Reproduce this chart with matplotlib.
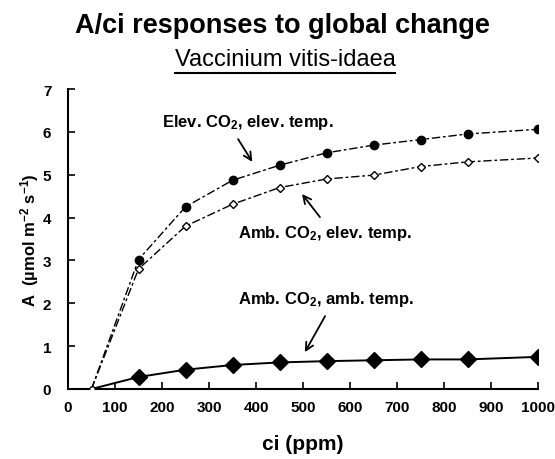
import matplotlib
matplotlib.use("Agg")
import matplotlib.pyplot as plt
from matplotlib.lines import Line2D

plt.rcParams['font.family'] = ['Liberation Sans', 'DejaVu Sans']
plt.rcParams['mathtext.default'] = 'regular'

ci = [50, 150, 250, 350, 450, 550, 650, 750, 850, 1000]
elev_co2_elev_temp = [0, 3.02, 4.25, 4.87, 5.22, 5.51, 5.69, 5.82, 5.95, 6.06]
amb_co2_elev_temp = [0, 2.80, 3.80, 4.31, 4.70, 4.90, 4.99, 5.19, 5.30, 5.39]
amb_co2_amb_temp = [0, 0.28, 0.45, 0.56, 0.62, 0.65, 0.67, 0.69, 0.69, 0.75]
xticks = list(range(0, 1001, 100))
yticks = list(range(0, 8))

fig = plt.figure(figsize=(5.55, 4.6), dpi=100)
ax = fig.add_axes([68/555, 1-390/460, 470/555, 300/460])

# lines
ax.plot(ci, elev_co2_elev_temp, color='black', lw=1.0, dashes=(6, 2, 2, 2), zorder=2)
ax.plot(ci, amb_co2_elev_temp, color='black', lw=1.0, dashes=(6, 2, 2, 2), zorder=2)
ax.plot(ci, amb_co2_amb_temp, color='black', lw=1.4, zorder=2)

# markers
ax.plot(ci[1:], elev_co2_elev_temp[1:], 'o', color='black', ms=6, ls='none', zorder=3)
ax.plot(ci[1:], amb_co2_elev_temp[1:], 'D', mfc='white', mec='black', mew=1.0, ms=4.5, ls='none', zorder=3)
ax.plot(ci[1:], amb_co2_amb_temp[1:], 'D', color='black', ms=8.5, ls='none', zorder=3)
ax.plot(ci[:1], amb_co2_amb_temp[:1], 'o', mfc='white', mec='black', mew=1.0, ms=4, ls='none', zorder=4)

ax.set_xlim(0, 1000)
ax.set_ylim(0, 7)
ax.set_xticks(xticks)
ax.set_yticks(yticks)
ax.tick_params(direction='in', length=5, width=1.2, labelsize=11)
ax.tick_params(axis='x', pad=8)
ax.tick_params(axis='y', pad=12)
for lab in ax.get_xticklabels() + ax.get_yticklabels():
    lab.set_fontweight('bold')
for s in ['top', 'right']:
    ax.spines[s].set_visible(False)
for s in ['left', 'bottom']:
    ax.spines[s].set_linewidth(1.5)

ax.set_xlabel('ci (ppm)', fontsize=15, fontweight='bold', labelpad=14)
fig.text(30/555, 1-240/460, 'A  (µmol m$^{-2}$ s$^{-1}$)', rotation=90, fontsize=12,
         fontweight='bold', ha='center', va='center')

arrow = dict(arrowstyle='->', color='black', lw=1.3, mutation_scale=14, shrinkA=0, shrinkB=0)
fs = 12
ax.text(383, 6.23, 'Elev. CO$_2$, elev. temp.', fontsize=fs, fontweight='bold', ha='center', va='center')
ax.annotate('', xy=(392, 5.30), xytext=(362, 5.83), arrowprops=arrow)
ax.text(547, 3.66, 'Amb. CO$_2$, elev. temp.', fontsize=fs, fontweight='bold', ha='center', va='center')
ax.annotate('', xy=(498, 4.55), xytext=(536, 4.01), arrowprops=arrow)
ax.text(549, 2.12, 'Amb. CO$_2$, amb. temp.', fontsize=fs, fontweight='bold', ha='center', va='center')
ax.annotate('', xy=(504, 0.86), xytext=(547, 1.70), arrowprops=arrow)

fig.text(282/555, 1-33/460, 'A/ci responses to global change', fontsize=19.5, fontweight='bold',
         ha='center', va='baseline')
sub = fig.text(285/555, 1-66/460, 'Vaccinium vitis-idaea', fontsize=17,
               ha='center', va='baseline')
fig.canvas.draw()
bb = sub.get_window_extent().transformed(fig.transFigure.inverted())
fig.add_artist(Line2D([bb.x0, bb.x1], [1-74/460, 1-74/460], color='black', lw=1.5,
                      transform=fig.transFigure))

fig.savefig('out.png', dpi=100)
